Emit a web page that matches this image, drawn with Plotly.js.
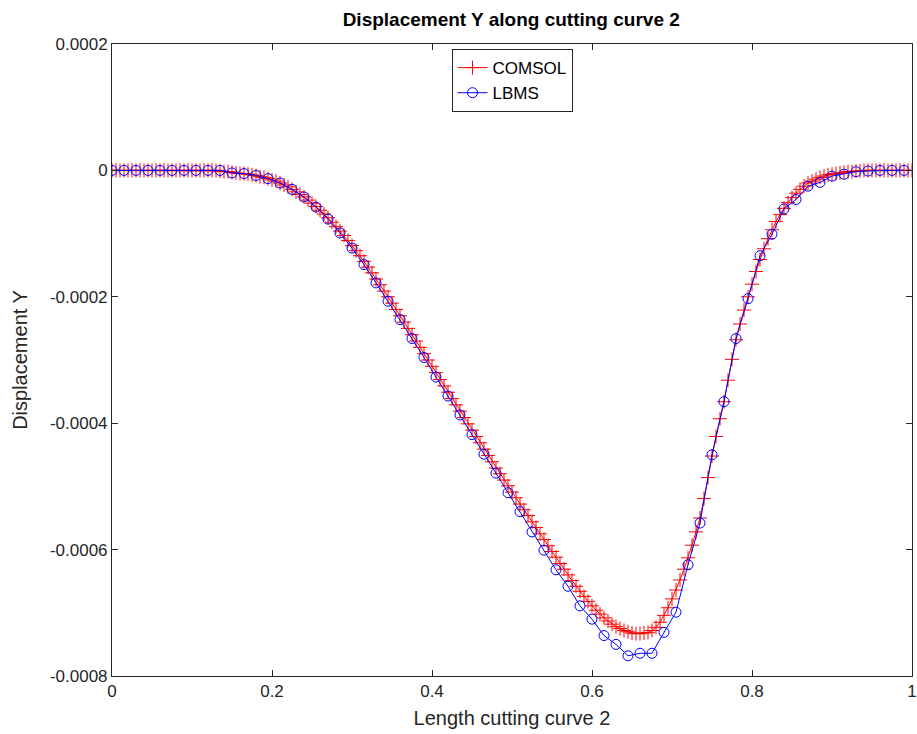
<!DOCTYPE html>
<html>
<head>
<meta charset="utf-8">
<script src="https://cdn.plot.ly/plotly-3.0.1.min.js"></script>
<style>html,body{margin:0;padding:0;background:#fff;}#chart{width:917px;height:734px;}</style>
</head>
<body>
<div id="chart"></div>
<script>
// ---- data (displacement values in units of 1e-6) ----
const seriesNames = ["COMSOL", "LBMS"];
const valueScale = 1e-6;

// COMSOL sampled every 0.005 from 0 to 1
const comsolStep = 0.005;
const comsolMicro = [
  0,0,0,0,0,0,0,0,0,0, 0,0,0,0,0,0,0,0,0,0, 0,0,0,0,0,0,0,
  -1,-2,-2,-3,-4,-5,-5,-6,-7,-8,-10,-11,-13,
  -15,-17,-20,-23,-26,-30,-34,-38,-42,-47,-52,-57,-63,-69,-75,-82,-89,-96,-103,-111,
  -119,-127,-135,-144,-153,-162,-172,-181,-191,-200,-210,-220,-230,-240,-250,-260,-270,-280,-290,-300,
  -310,-320,-331,-341,-351,-361,-371,-381,-391,-401,-411,-421,-431,-441,-451,-461,-471,-480,-490,-499,
  -509,-518,-528,-537,-546,-556,-565,-575,-584,-594,-603,-612,-622,-631,-640,-649,-658,-666,-674,-682,
  -689,-696,-702,-708,-713,-718,-722,-725,-728,-730,-732,-733,-733,-732,-731,-728,-723,-715,-704,-692,
  -678,-664,-648,-631,-613,-593,-572,-550,-519,-486,-452,-421,-393,-366,-332,-299,-268,-243,-221,-200,
  -180,-160,-141,-124,-108,-94,-81,-70,-60,-51,-43,-36,-30,-25,-20,-17,-14,-11,-9,-7,
  -6,-5,-4,-3,-2,-2,-1,-1,
  0,0,0,0,0,0,0,0,0,0,0,0,0
];

// LBMS sampled every 0.015 from 0 to 0.99
const lbmsStep = 0.015;
const lbmsMicro = [
  0,0,0,0,0,0,0,0,0,0,
  -4,-5,-8,-13,-20,-30,-42,-58,-77,-99,
  -123,-149,-178,-207,-236,-266,-296,-327,-357,-387,
  -418,-449,-479,-510,-540,-572,-601,-632,-658,-689,
  -710,-736,-750,-768,-764,-764,-731,-699,-624,-558,
  -450,-366,-266,-203,-135,-101,-61,-46,-25,-19,
  -9,-6,-2,-1,0,0,0
];

const xTickVals = [0, 0.2, 0.4, 0.6, 0.8, 1];
const xTickText = ["0", "0.2", "0.4", "0.6", "0.8", "1"];
const yTickVals = [0.0002, 0, -0.0002, -0.0004, -0.0006, -0.0008];
const yTickText = ["0.0002", "0", "-0.0002", "-0.0004", "-0.0006", "-0.0008"];

const titleText = "Displacement Y along cutting curve 2";
const xLabel = "Length cutting curve 2";
const yLabel = "Displacement Y";

// ---- build ----
const comsolX = comsolMicro.map((_, i) => +(i * comsolStep).toFixed(4));
const comsolY = comsolMicro.map(v => v * valueScale);
const lbmsX = lbmsMicro.map((_, i) => +(i * lbmsStep).toFixed(4));
const lbmsY = lbmsMicro.map(v => v * valueScale);

const FONT = '"Liberation Sans", Arial, Helvetica, sans-serif';
const AX = '#262626';

const traces = [
  {
    x: comsolX, y: comsolY, name: seriesNames[0], type: 'scatter', mode: 'lines+markers',
    legendgroup: 'a',
    line: {color: '#ff0000', width: 1},
    marker: {symbol: 'cross-thin-open', size: 10, color: '#ff0000', line: {color: '#ff0000', width: 1}}
  },
  {
    x: lbmsX, y: lbmsY, name: seriesNames[1], type: 'scatter', mode: 'lines+markers',
    legendgroup: 'b',
    line: {color: '#0000ff', width: 1},
    marker: {symbol: 'circle-open', size: 10, color: '#0000ff', line: {color: '#0000ff', width: 1}}
  }
];

const layout = {
  width: 917, height: 734,
  margin: {l: 112, r: 5, t: 44, b: 58, pad: 0},
  paper_bgcolor: '#ffffff', plot_bgcolor: '#ffffff',
  font: {family: FONT, size: 17, color: AX},
  title: {text: '<b>' + titleText + '</b>', font: {family: FONT, size: 19, color: '#000'},
          x: 0.5575, xanchor: 'center', y: 0.974, yanchor: 'middle'},
  showlegend: true,
  legend: {
    x: 0.5, xanchor: 'center', y: 0.992, yanchor: 'top',
    bgcolor: '#ffffff', bordercolor: AX, borderwidth: 1,
    font: {family: FONT, size: 17, color: '#000'},
    tracegroupgap: 0, traceorder: 'grouped', itemwidth: 30
  },
  xaxis: {
    range: [0, 1], tickvals: xTickVals, ticktext: xTickText,
    ticks: 'inside', ticklen: 6, tickwidth: 1, tickcolor: AX,
    showline: true, linecolor: AX, linewidth: 1, mirror: 'ticks',
    showgrid: false, zeroline: false,
    tickfont: {family: FONT, size: 17, color: AX},
    title: {text: xLabel, font: {family: FONT, size: 20, color: AX}, standoff: 10}
  },
  yaxis: {
    range: [-0.0008, 0.0002], tickvals: yTickVals, ticktext: yTickText,
    ticks: 'inside', ticklen: 6, tickwidth: 1, tickcolor: AX,
    showline: true, linecolor: AX, linewidth: 1, mirror: 'ticks',
    showgrid: false, zeroline: false,
    tickfont: {family: FONT, size: 17, color: AX},
    title: {text: yLabel, font: {family: FONT, size: 20, color: AX}, standoff: 16}
  },
  hovermode: false
};

Plotly.newPlot('chart', traces, layout, {staticPlot: true, displayModeBar: false});
</script>
</body>
</html>
